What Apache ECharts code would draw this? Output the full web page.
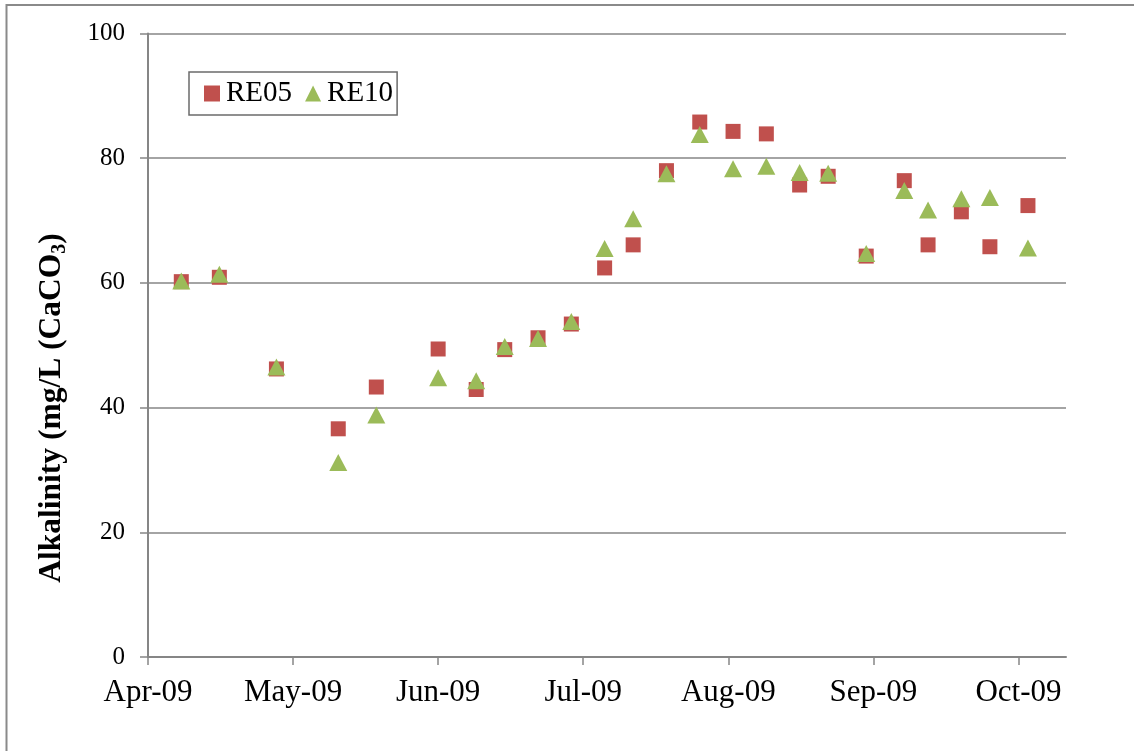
<!DOCTYPE html>
<html>
<head>
<meta charset="utf-8">
<title>Alkalinity RE05 / RE10</title>
<script src="https://cdn.jsdelivr.net/npm/echarts@6/dist/echarts.min.js"></script>
<style>
  html, body { margin: 0; padding: 0; background: #ffffff; }
  #chart { width: 1134px; height: 751px; }
</style>
</head>
<body>
<div id="chart"></div>
<script>
// Sampling dates (2009 season)
const sampleDates = [
  '2009-04-08', '2009-04-16', '2009-04-28', '2009-05-11', '2009-05-19',
  '2009-06-01', '2009-06-09', '2009-06-15', '2009-06-22', '2009-06-29',
  '2009-07-06', '2009-07-12', '2009-07-19', '2009-07-26', '2009-08-02',
  '2009-08-09', '2009-08-16', '2009-08-22', '2009-08-30', '2009-09-07',
  '2009-09-12', '2009-09-19', '2009-09-25', '2009-10-03'
];

// Alkalinity, mg/L as CaCO3
const re05 = [
  60.2, 60.9, 46.2, 36.6, 43.3, 49.4, 42.9, 49.3, 51.2, 53.4,
  62.4, 66.1, 78.0, 85.8, 84.3, 83.9, 75.7, 77.1, 64.3, 76.4,
  66.1, 71.4, 65.8, 72.4
];
const re10 = [
  60.3, 61.4, 46.5, 31.2, 38.8, 44.8, 44.3, 49.8, 51.1, 53.8,
  65.5, 70.3, 77.5, 83.8, 78.3, 78.7, 77.7, 77.6, 64.7, 74.8,
  71.7, 73.5, 73.7, 65.6
];

// Month tick labels along the date axis
const monthLabels = ['Apr-09', 'May-09', 'Jun-09', 'Jul-09', 'Aug-09', 'Sep-09', 'Oct-09'];

// x is measured in days since 1 Apr 2009
const DAY = 86400000;
const origin = Date.UTC(2009, 3, 1);
function dayOffset(s) {
  const [y, m, d] = s.split('-').map(Number);
  return (Date.UTC(y, m - 1, d) - origin) / DAY;
}
const MONTH_STEP = 30.5;            // mean month length used for the major unit
const monthTicks = monthLabels.map((_, i) => i * MONTH_STEP);

const pts05 = sampleDates.map((d, i) => [dayOffset(d), re05[i]]);
const pts10 = sampleDates.map((d, i) => [dayOffset(d), re10[i]]);

const SERIF = '"Liberation Serif", "Times New Roman", serif';
const AXIS_GRAY = '#868686';

const chart = echarts.init(document.getElementById('chart'), null, { renderer: 'canvas' });

chart.setOption({
  animation: false,
  backgroundColor: '#ffffff',
  grid: { left: 148, top: 33.5, right: 68, bottom: 94, containLabel: false },
  legend: {
    left: 189,
    top: 72,
    orient: 'horizontal',
    padding: [7, 4, 7, 15],
    itemGap: 13,
    itemWidth: 16,
    itemHeight: 16,
    borderColor: '#6b6b6b',
    borderWidth: 1.5,
    borderRadius: 0,
    backgroundColor: '#ffffff',
    textStyle: { fontFamily: SERIF, fontSize: 29, color: '#000000', padding: [0, 0, 0, 1] },
    data: [
      { name: 'RE05', icon: 'rect' },
      { name: 'RE10', icon: 'triangle' }
    ]
  },
  xAxis: {
    type: 'value',
    min: 0,
    max: 193,
    axisLine: { show: true, onZero: false, lineStyle: { color: AXIS_GRAY, width: 2 } },
    axisTick: {
      show: true,
      customValues: monthTicks,
      length: 8,
      inside: false,
      lineStyle: { color: AXIS_GRAY, width: 1.5 }
    },
    axisLabel: {
      customValues: monthTicks,
      formatter: (v) => monthLabels[Math.round(v / MONTH_STEP)] || '',
      fontFamily: SERIF,
      fontSize: 31,
      color: '#000000',
      margin: 20
    },
    splitLine: { show: false }
  },
  yAxis: {
    type: 'value',
    min: 0,
    max: 100,
    interval: 20,
    axisLine: { show: true, lineStyle: { color: AXIS_GRAY, width: 2 } },
    axisTick: { show: true, length: 8, inside: false, lineStyle: { color: AXIS_GRAY, width: 1.5 } },
    axisLabel: {
      fontFamily: SERIF,
      fontSize: 25,
      color: '#000000',
      margin: 23
    },
    splitLine: { show: true, lineStyle: { color: AXIS_GRAY, width: 1.5 } }
  },
  graphic: [
    {
      // outer chart frame
      type: 'rect',
      z: -10,
      silent: true,
      shape: { x: 6.5, y: 5, width: 1300, height: 900 },
      style: { fill: 'none', stroke: '#8a8a8a', lineWidth: 2 }
    },
    {
      // y-axis title with subscript
      type: 'text',
      x: 52,
      y: 408,
      rotation: Math.PI / 2,
      silent: true,
      style: {
        text: '{t|Alkalinity (mg/L (CaCO}{s|3}{t|)}',
        align: 'center',
        verticalAlign: 'middle',
        fill: '#000000',
        rich: {
          t: { fontFamily: SERIF, fontSize: 31.5, fontWeight: 'bold', lineHeight: 35, fill: '#000000' },
          s: { fontFamily: SERIF, fontSize: 20, fontWeight: 'bold', lineHeight: 20, verticalAlign: 'bottom', fill: '#000000' }
        }
      }
    }
  ],
  series: [
    {
      name: 'RE05',
      type: 'scatter',
      symbol: 'rect',
      symbolSize: 15,
      itemStyle: { color: '#C0504D', opacity: 1 },
      data: pts05,
      z: 2
    },
    {
      name: 'RE10',
      type: 'scatter',
      symbol: 'triangle',
      symbolSize: [18, 17],
      itemStyle: { color: '#9BBB59', opacity: 1 },
      data: pts10,
      z: 3
    }
  ]
});
</script>
</body>
</html>
